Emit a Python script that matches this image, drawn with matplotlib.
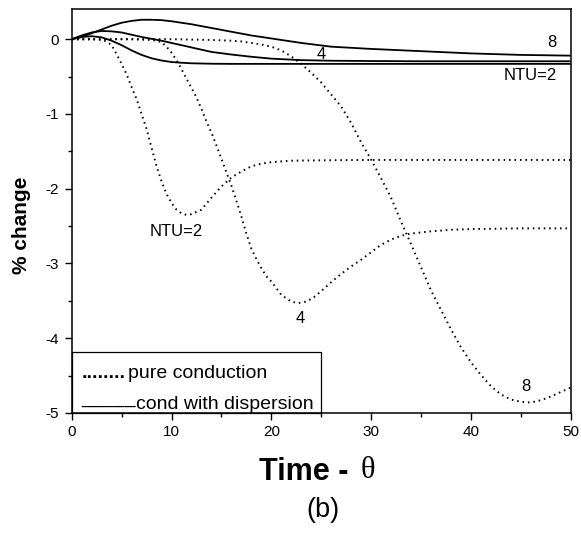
import matplotlib
matplotlib.use("Agg")
import matplotlib.pyplot as plt
from matplotlib.patches import Rectangle

plt.rcParams['font.family'] = ['Liberation Sans', 'DejaVu Sans']

# ---- cond with dispersion (solid) ----
theta_s2 = [0, 1, 2, 3, 4, 5, 6, 7, 8, 9, 10, 11, 12, 14, 16, 20, 30, 40, 50]
disp_ntu2 = [0, 0.03, 0.04, 0.025, -0.02, -0.08, -0.15, -0.21, -0.255, -0.285,
             -0.305, -0.315, -0.322, -0.328, -0.33, -0.33, -0.33, -0.33, -0.33]

theta_s4 = [0, 1, 2, 3, 4, 5, 6, 7, 8, 9, 10, 12, 14, 16, 18, 20, 23, 26, 30, 35, 40, 50]
disp_ntu4 = [0, 0.05, 0.09, 0.11, 0.105, 0.09, 0.06, 0.03, 0.005, -0.02, -0.05,
             -0.11, -0.17, -0.205, -0.235, -0.26, -0.28, -0.288, -0.292, -0.295, -0.295, -0.295]

theta_s8 = [0, 1, 2, 3, 4, 5, 6, 7, 8, 9, 10, 12, 14, 16, 18, 20, 23, 26, 30, 35, 40, 45, 50]
disp_ntu8 = [0, 0.03, 0.08, 0.13, 0.18, 0.22, 0.245, 0.26, 0.26, 0.255, 0.24, 0.2,
             0.15, 0.1, 0.05, 0.01, -0.05, -0.1, -0.13, -0.16, -0.19, -0.21, -0.22]

# ---- pure conduction (dotted) ----
theta_d2 = [0, 1, 2, 3, 3.5, 4, 4.5, 5, 5.5, 6, 6.5, 7, 7.5, 8, 8.5, 9, 9.5, 10, 10.5,
            11, 11.5, 12, 12.5, 13, 14, 15, 16, 17, 18, 19, 20, 22, 25, 30, 40, 50]
cond_ntu2 = [0, 0, 0, -0.01, -0.03, -0.08, -0.2, -0.33, -0.47, -0.64, -0.8, -1.0, -1.2,
             -1.45, -1.7, -1.9, -2.07, -2.19, -2.28, -2.33, -2.35, -2.34, -2.31, -2.28,
             -2.12, -1.97, -1.85, -1.77, -1.70, -1.665, -1.645, -1.625, -1.62, -1.615,
             -1.615, -1.615]

theta_d4 = [0, 4, 6, 7, 8, 8.5, 9, 9.5, 10, 10.5, 11, 11.5, 12, 12.5, 13, 13.5, 14, 14.5,
            15, 15.5, 16, 16.5, 17, 17.5, 18, 18.5, 19, 19.5, 20, 21, 22, 22.7, 23.5, 24.2,
            25, 26, 27, 28, 29, 30, 31, 32, 33, 34, 36, 38, 40, 45, 50]
cond_ntu4 = [0, 0, 0, -0.005, -0.01, -0.02, -0.04, -0.1, -0.18, -0.28, -0.4, -0.53, -0.65,
             -0.78, -0.93, -1.1, -1.25, -1.42, -1.6, -1.78, -1.96, -2.16, -2.37, -2.6, -2.8,
             -2.94, -3.06, -3.17, -3.24, -3.42, -3.51, -3.53, -3.51, -3.46, -3.37, -3.25,
             -3.14, -3.04, -2.95, -2.85, -2.75, -2.68, -2.63, -2.6, -2.57, -2.55, -2.54,
             -2.53, -2.53]

theta_d8 = [0, 10, 14, 16, 17, 18, 19, 20, 21, 22, 23, 24, 25, 26, 27, 28, 29, 30, 31, 32,
            33, 34, 35, 36, 37, 38, 39, 40, 41, 42, 43, 44, 45, 46, 47, 48, 49, 50]
cond_ntu8 = [0, 0, -0.01, -0.02, -0.03, -0.05, -0.07, -0.1, -0.15, -0.23, -0.33, -0.45,
             -0.58, -0.74, -0.9, -1.12, -1.38, -1.61, -1.86, -2.12, -2.44, -2.74, -3.05,
             -3.36, -3.62, -3.88, -4.12, -4.32, -4.49, -4.64, -4.75, -4.82, -4.85, -4.86,
             -4.83, -4.78, -4.72, -4.66]

x_ticks = [0, 10, 20, 30, 40, 50]
y_ticks = [0, -1, -2, -3, -4, -5]

fig = plt.figure(figsize=(5.81, 5.38), dpi=100)
ax = fig.add_axes([71.7 / 581, (538 - 413) / 538, 499 / 581, (413 - 9.3) / 538])

solid_kw = dict(color='black', lw=1.3, solid_capstyle='butt')
dot_kw = dict(color='black', lw=1.4, linestyle=(0, (0.8, 2.0)))

ax.plot(theta_s2, disp_ntu2, **solid_kw)
ax.plot(theta_s4, disp_ntu4, **solid_kw)
ax.plot(theta_s8, disp_ntu8, **solid_kw)
ax.plot(theta_d2, cond_ntu2, **dot_kw)
ax.plot(theta_d4, cond_ntu4, **dot_kw)
ax.plot(theta_d8, cond_ntu8, **dot_kw)

ax.set_xlim(0, 50)
ax.set_ylim(-5, 0.4)
ax.set_xticks(x_ticks)
ax.set_yticks(y_ticks)
ax.set_xticks([5, 15, 25, 35, 45], minor=True)
ax.set_yticks([0.0 - 0.5 * i for i in range(1, 10, 2)], minor=True)
ax.set_xticklabels([str(v) for v in x_ticks], fontsize=11)
ax.set_yticklabels([str(v) for v in y_ticks], fontsize=11)
ax.tick_params(which='major', direction='out', length=5, width=1, pad=4)
ax.tick_params(which='minor', direction='out', length=3, width=1)
for s in ax.spines.values():
    s.set_linewidth(1.1)

# curve annotations
ann_kw = dict(fontsize=12, ha='center', va='center')
ax.text(48.1, -0.05, '8', **ann_kw)
ax.text(25.0, -0.21, '4', **ann_kw)
ax.text(45.9, -0.49, 'NTU=2', **ann_kw)
ax.text(10.45, -2.57, 'NTU=2', **ann_kw)
ax.text(22.9, -3.73, '4', **ann_kw)
ax.text(45.5, -4.65, '8', **ann_kw)

# legend box (drawn as text, like the original)
ax.add_patch(Rectangle((0, -5), 25, 0.81, fill=False, edgecolor='black', lw=0.9,
                       zorder=5, clip_on=False))
ax.text(1.0, -4.53, '........', fontsize=14, fontweight='bold', va='baseline', ha='left')
ax.text(5.6, -4.53, 'pure conduction', fontsize=14, va='baseline', ha='left')
ax.text(1.0, -4.86, '_____', fontsize=14, va='baseline', ha='left')
ax.text(6.45, -4.95, 'cond with dispersion', fontsize=14, va='baseline', ha='left')

# axis labels
fig.text(22 / 581, 1 - 225 / 538, '% change', rotation=90, fontsize=15,
         fontweight='bold', ha='center', va='center')
fig.text(357 / 581, 1 - 472 / 538, 'Time - ', fontsize=22, fontweight='bold',
         ha='right', va='center')
fig.text(361 / 581, 1 - 471 / 538, 'θ', fontsize=22, family='Liberation Serif',
         ha='left', va='center')
fig.text(323 / 581, 1 - 510 / 538, '(b)', fontsize=19.5, ha='center', va='center')

fig.savefig('out.png', dpi=100)
